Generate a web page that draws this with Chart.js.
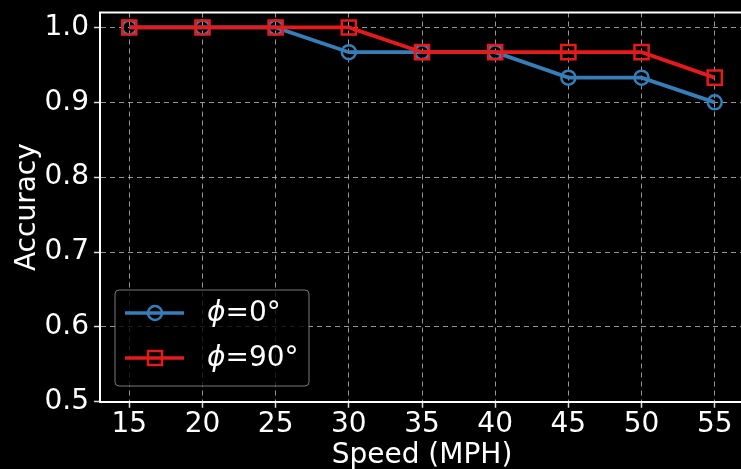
<!DOCTYPE html>
<html>
<head>
<meta charset="utf-8">
<script src="https://cdn.jsdelivr.net/npm/chart.js@4.4.1/dist/chart.umd.min.js"></script>
<style>
  html, body { margin: 0; padding: 0; background: #000; overflow: hidden; }
  #wrap { position: relative; width: 760px; height: 473px; }
</style>
</head>
<body>
<div id="wrap"><canvas id="chart"></canvas></div>
<script>
// data
const speeds = [15, 20, 25, 30, 35, 40, 45, 50, 55];
const acc0 = [1.0, 1.0, 1.0, 0.967, 0.967, 0.967, 0.933, 0.933, 0.9];
const acc90 = [1.0, 1.0, 1.0, 1.0, 0.967, 0.967, 0.967, 0.967, 0.933];
const xTicks = [15, 20, 25, 30, 35, 40, 45, 50, 55];
const yTicks = [0.5, 0.6, 0.7, 0.8, 0.9, 1.0];

const blue = '#377eb8';
const red = '#e41a1c';
const font = 'DejaVu Sans';

// top spine + legend box inside the plot
const extras = {
  id: 'extras',
  afterDraw(chart) {
    const { ctx, chartArea } = chart;
    ctx.save();
    ctx.strokeStyle = '#fff';
    ctx.lineWidth = 2;
    ctx.beginPath();
    ctx.moveTo(chartArea.left - 1, chartArea.top);
    ctx.lineTo(chartArea.right + 20, chartArea.top);
    ctx.stroke();

    // legend
    const bx = chartArea.left + 15, by = 290, bw = 194, bh = 96;
    ctx.beginPath();
    ctx.roundRect(bx, by, bw, bh, 4);
    ctx.fillStyle = 'rgba(0,0,0,0.8)';
    ctx.fill();
    ctx.strokeStyle = 'rgba(200,200,200,0.6)';
    ctx.lineWidth = 1;
    ctx.stroke();

    const items = [
      { label: '=0°', color: blue, shape: 'circle', y: by + 23 },
      { label: '=90°', color: red, shape: 'rect', y: by + 68 }
    ];
    items.forEach(it => {
      ctx.strokeStyle = it.color;
      ctx.lineWidth = 3.5;
      ctx.beginPath();
      ctx.moveTo(bx + 10, it.y);
      ctx.lineTo(bx + 69, it.y);
      ctx.stroke();
      ctx.lineWidth = 2.5;
      ctx.beginPath();
      if (it.shape === 'circle') {
        ctx.arc(bx + 40, it.y, 7, 0, Math.PI * 2);
      } else {
        ctx.rect(bx + 33, it.y - 7, 14, 14);
      }
      ctx.stroke();
      ctx.fillStyle = '#fff';
      ctx.textBaseline = 'middle';
      ctx.font = 'italic 28px "' + font + '"';
      ctx.fillText('ϕ', bx + 92, it.y + 1);
      const w = ctx.measureText('ϕ').width;
      ctx.font = '28px "' + font + '"';
      ctx.fillText(it.label, bx + 92 + w, it.y + 1);
    });
    ctx.restore();
  }
};

const gridStyle = {
  color: 'rgba(200,200,200,0.75)',
  lineWidth: 1,
  tickColor: '#ddd',
  tickLength: 6,
  tickWidth: 1.5
};

new Chart(document.getElementById('chart'), {
  type: 'line',
  data: {
    datasets: [
      {
        label: 'ϕ=0°',
        data: speeds.map((s, i) => ({ x: s, y: acc0[i] })),
        borderColor: blue,
        backgroundColor: 'transparent',
        borderWidth: 3.8,
        pointStyle: 'circle',
        pointRadius: 7,
        pointBorderWidth: 2.5,
        pointBorderColor: blue,
        pointBackgroundColor: 'transparent',
        order: 2
      },
      {
        label: 'ϕ=90°',
        data: speeds.map((s, i) => ({ x: s, y: acc90[i] })),
        borderColor: red,
        backgroundColor: 'transparent',
        borderWidth: 3.8,
        pointStyle: 'rect',
        pointRadius: 10,
        pointBorderWidth: 2.5,
        pointBorderColor: red,
        pointBackgroundColor: 'transparent',
        order: 1
      }
    ]
  },
  options: {
    responsive: true,
    maintainAspectRatio: false,
    animation: false,
    layout: { padding: { top: 0, right: 16, bottom: 0, left: 7 } },
    plugins: { legend: { display: false }, tooltip: { enabled: false } },
    scales: {
      x: {
        type: 'linear',
        min: 13,
        max: 57,
        afterBuildTicks: axis => { axis.ticks = xTicks.map(v => ({ value: v })); },
        grid: gridStyle,
        border: { color: '#fff', width: 2, dash: [5, 4] },
        ticks: { color: '#fff', font: { family: font, size: 28 }, padding: 0, maxRotation: 0 },
        title: { display: true, text: 'Speed (MPH)', color: '#fff', font: { family: font, size: 28 }, padding: { top: -2, bottom: 0 } }
      },
      y: {
        min: 0.5,
        max: 1.02,
        afterBuildTicks: axis => { axis.ticks = yTicks.map(v => ({ value: v })); },
        afterFit: axis => { axis.width = 93; },
        grid: gridStyle,
        border: { color: '#fff', width: 2, dash: [5, 4] },
        ticks: { color: '#fff', font: { family: font, size: 28, lineHeight: 0.4 }, padding: 5, callback: v => v.toFixed(1) },
        title: { display: true, text: 'Accuracy', color: '#fff', font: { family: font, size: 28 }, padding: { top: 4, bottom: 0 } }
      }
    }
  },
  plugins: [extras]
});
</script>
</body>
</html>
